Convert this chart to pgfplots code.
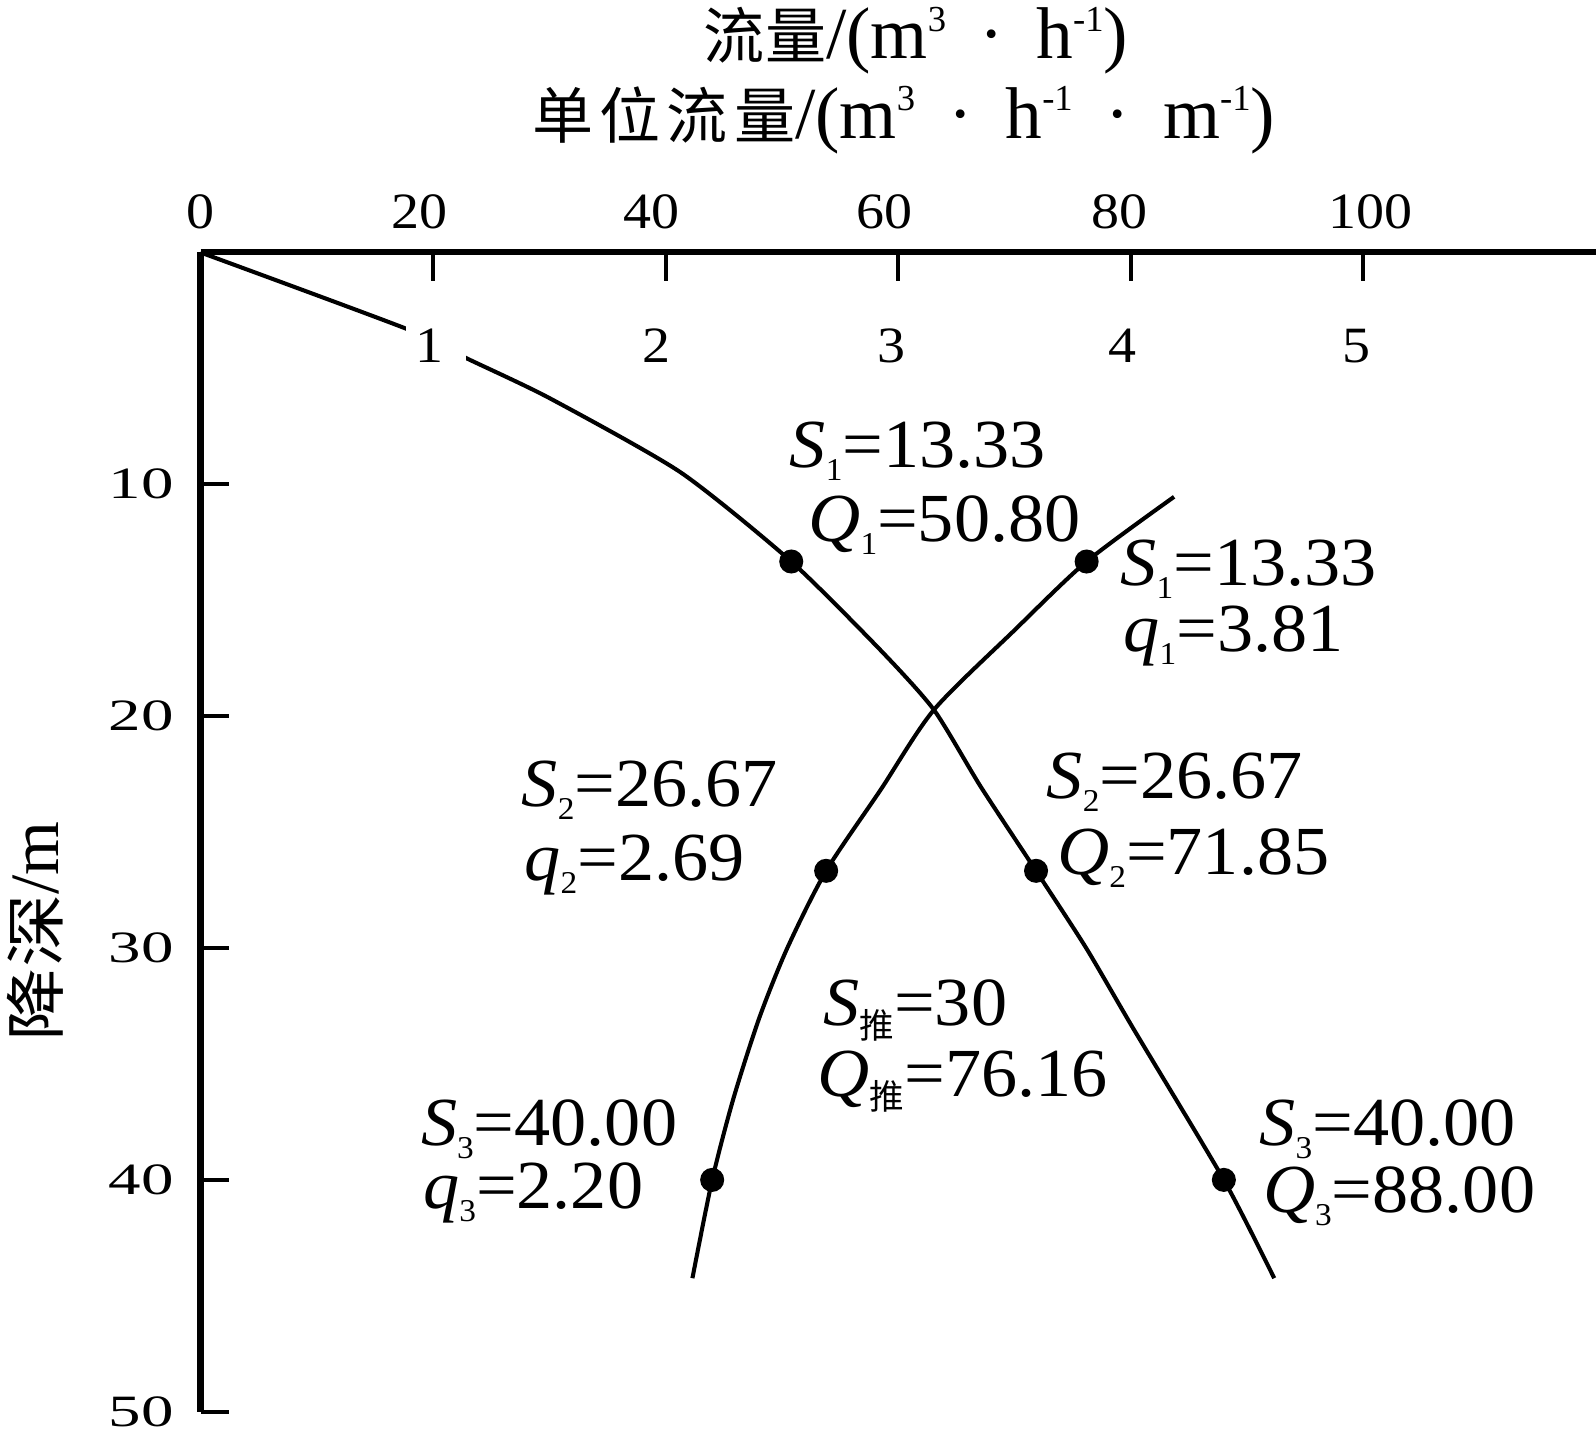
\documentclass[border=0pt]{standalone}
\usepackage{pgfplots}
\pgfplotsset{compat=1.18}
\usepackage{fontspec}
\usetikzlibrary{calc}
\setmainfont{Liberation Serif}
\newfontfamily\cjk{Noto Sans CJK SC}
\newfontfamily\cjkwide[FakeStretch=1.2]{Noto Sans CJK SC}
\newfontfamily\annfont[FakeStretch=1.05]{Liberation Serif}
\newfontfamily\yfont[FakeStretch=1.45]{Liberation Serif}
\newfontfamily\xfont[FakeStretch=1.1]{Liberation Serif}

% annotation: italic symbol, lowered subscript, value
\newcommand\ann[3]{{\annfont\fontsize{16.9}{18}\selectfont\textit{#1}\raisebox{-3.2pt}{\fontsize{7.8}{8}\selectfont #2}=#3}}
\newcommand\tui{{\cjk\fontsize{8.5}{8.5}\selectfont 推}}
% small raised exponent used in the unit labels
\newcommand\sups[1]{\raisebox{6.8pt}{\fontsize{9}{9}\selectfont #1}}
\newcommand\cdotsp{\hspace{0.45em}·\hspace{0.45em}}

\tikzset{qlab/.style={inner sep=2pt, font=\xfont\fontsize{12.5}{13}\selectfont}}

\begin{document}
\begin{tikzpicture}
\pgfplotsset{
  base/.style={
    scale only axis, width=342.75pt, height=284.75pt,
    ymin=0, ymax=50, y dir=reverse, clip=false,
  },
}
% flow rate Q (main axis)
\begin{axis}[base, name=ax,
  xmin=0, xmax=120,
  axis x line=top, axis y line=left,
  every outer x axis line/.append style={-},
  every outer y axis line/.append style={-},
  every inner x axis line/.append style={-},
  every inner y axis line/.append style={-},
  axis line style={line width=1.5pt, black},
  xtick={0,20,...,100}, ytick={10,20,...,50},
  xticklabels={0,\hspace{-6.8pt}20,\hspace{-6.8pt}40,\hspace{-6.8pt}60,\hspace{-5.8pt}80,\hspace{3.4pt}100},
  tick align=inside, major tick length=7pt,
  tick style={line width=1pt, black},
  /pgf/number format/assume math mode=true,
  xticklabel style={font=\xfont\fontsize{12.5}{13}\selectfont},
  yticklabel style={font=\yfont\fontsize{11}{12}\selectfont},
  xticklabel shift=2.3pt, yticklabel shift=3pt,
]
\addplot[black, line width=1pt, smooth, tension=0.4] coordinates {
  (0,0) (17.74,3.3) (22.9,4.57) (30,6.28) (41.27,9.48)
  (50.8,13.33) (58.47,17.15) (63.07,19.73) (67.09,23.04) (71.85,26.67)
  (76.16,30) (80.28,33.53) (88,40) (92.33,44.24)};
\addplot[only marks, mark=*, mark size=2.75pt, black] coordinates {
  (50.8,13.33) (71.85,26.67) (88,40)};

\node[anchor=base west, inner sep=0] at (axis cs:50.6,9.28) {\ann{S}{1}{13.33}};
\node[anchor=base west, inner sep=0] at (axis cs:52.2,12.48) {\ann{Q}{1}{50.80}};
\node[anchor=base west, inner sep=0] at (axis cs:72.7,23.54) {\ann{S}{2}{26.67}};
\node[anchor=base west, inner sep=0] at (axis cs:73.6,26.83) {\ann{Q}{2}{71.85}};
\node[anchor=base west, inner sep=0] at (axis cs:53.5,33.33) {\ann{S}{\tui}{30}};
\node[anchor=base west, inner sep=0] at (axis cs:53.0,36.41) {\ann{Q}{\tui}{76.16}};
\node[anchor=base west, inner sep=0] at (axis cs:91.0,38.51) {\ann{S}{3}{40.00}};
\node[anchor=base west, inner sep=0] at (axis cs:91.3,41.39) {\ann{Q}{3}{88.00}};
\end{axis}

% specific capacity q (same frame, own scale)
\begin{axis}[base, name=qax, xmin=0, xmax=6, hide axis]
\addplot[black, line width=1pt, smooth, tension=0.45] coordinates {
  (4.186,10.54) (3.81,13.33) (3.50,16.29) (3.153,19.73) (2.924,23.18)
  (2.69,26.67) (2.523,30) (2.403,33) (2.291,36.5) (2.20,40) (2.115,44.24)};
\addplot[only marks, mark=*, mark size=2.75pt, black] coordinates {
  (3.81,13.33) (2.69,26.67) (2.20,40)};

% white break in the Q curve behind the first q label
\node[fill=white, inner sep=0, minimum width=14.75pt, minimum height=14pt] at (axis cs:1.014,4.04) {};
\node[qlab] at (axis cs:0.985,4.04) {1};
\node[qlab] at (axis cs:1.96,4.04) {2};
\node[qlab] at (axis cs:2.97,4.04) {3};
\node[qlab] at (axis cs:3.965,4.04) {4};
\node[qlab] at (axis cs:4.97,4.04) {5};

\node[anchor=base west, inner sep=0] at (axis cs:3.952,14.37) {\ann{S}{1}{13.33}};
\node[anchor=base west, inner sep=0] at (axis cs:3.965,17.22) {\ann{q}{1}{3.81}};
\node[anchor=base west, inner sep=0] at (axis cs:1.378,23.89) {\ann{S}{2}{26.67}};
\node[anchor=base west, inner sep=0] at (axis cs:1.39,27.09) {\ann{q}{2}{2.69}};
\node[anchor=base west, inner sep=0] at (axis cs:0.945,38.51) {\ann{S}{3}{40.00}};
\node[anchor=base west, inner sep=0] at (axis cs:0.954,41.23) {\ann{q}{3}{2.20}};
\end{axis}

% axis titles
\node at ($(ax.north west)+(175.75pt,52pt)$)
  {\fontsize{18}{18}\selectfont{\cjk\fontsize{15}{15}\selectfont 流量}/(m\sups{3}\cdotsp h\sups{-1})};
\node at ($(ax.north west)+(172.75pt,32.5pt)$)
  {\fontsize{18}{18}\selectfont{\cjk\fontsize{15}{15}\selectfont 单\hspace{1.5pt}位\hspace{1.5pt}流\hspace{1.5pt}量}/(m\sups{3}\cdotsp h\sups{-1}\cdotsp m\sups{-1})};
\node[rotate=90] at ($(ax.north west)+(-40.5pt,-166.75pt)$)
  {\fontsize{17}{17}\selectfont{\cjkwide\fontsize{15}{15}\selectfont 降深}/m};

\pgfresetboundingbox
\path[use as bounding box] ($(ax.north west)+(-49.25pt,62pt)$) rectangle ($(ax.south east)+(0pt,-6.25pt)$);
\end{tikzpicture}
\end{document}
